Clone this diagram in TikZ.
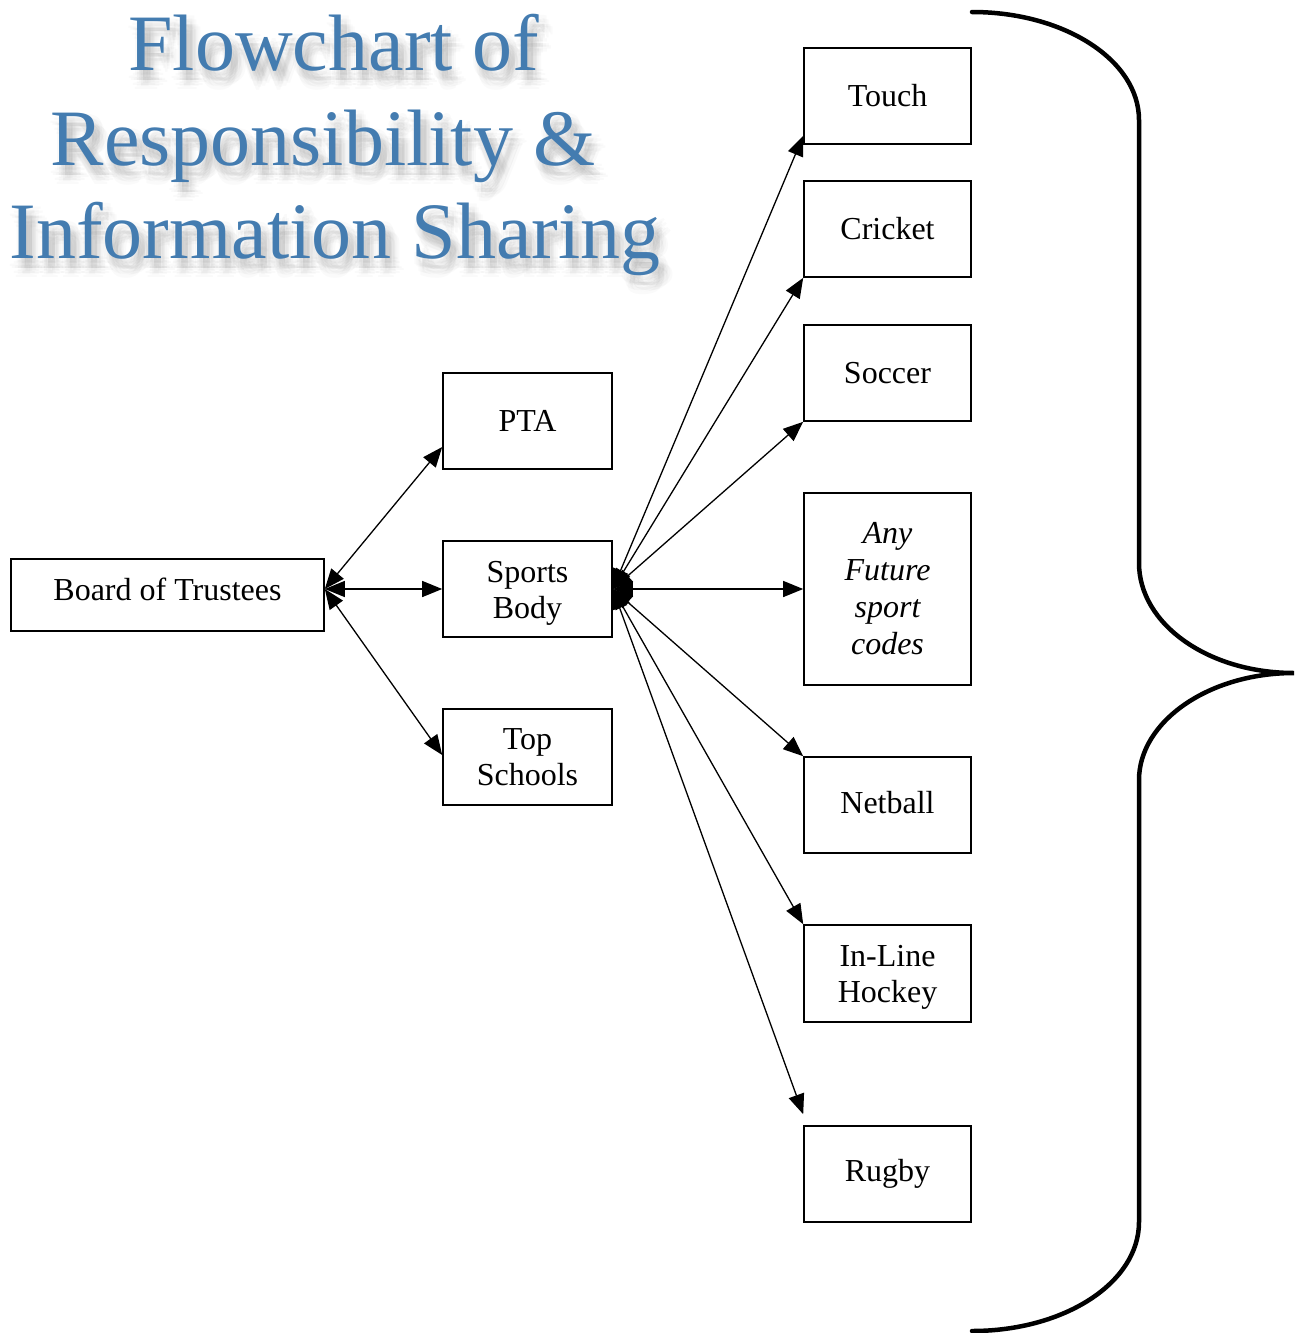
\documentclass[tikz,border=0pt]{standalone}
\usepackage{fontspec}
\setmainfont{Liberation Serif}
\usetikzlibrary{arrows.meta}
\definecolor{titleblue}{RGB}{68,124,176}
\begin{document}
\begin{tikzpicture}[x=1pt,y=-1pt,
  box/.style={draw,line width=1.6pt,inner sep=0pt,minimum width=167pt,
    minimum height=96pt,align=center,font=\fontsize{32}{36}\selectfont},
  link/.style={line width=1.3pt,
    {Triangle[length=20pt,width=16pt]}-{Triangle[length=20pt,width=16pt]}},
  titletext/.style={font=\fontsize{80}{94}\selectfont,inner sep=0pt,anchor=base},
  shadowtext/.style={titletext,text=black,opacity=0.018},
  brace/.style={line width=4.5pt,line cap=round}]
\useasboundingbox (0,0) rectangle (1294,1333);

% soft, diffuse drop shadow behind the title
\foreach \dx/\dy [count=\k] in {6/10,0/10,12/10,6/4,6/16,2/5,10/5,2/15,10/15,
                                 6/10,3/10,9/10,6/7,6/13,-2/8,14/12,4/19,8/1} {
  \node[shadowtext] (sa\k) at (334+\dx,70+\dy) {Flowchart of};
  \node[shadowtext] (sb\k) at (323+\dx,165+\dy) {Responsibility \&};
  \node[shadowtext] (sc\k) at (335+\dx,258+\dy) {Information Sharing};
}
% title
\node[titletext,text=titleblue] (t1) at (334,70) {Flowchart of};
\node[titletext,text=titleblue] (t2) at (323,165) {Responsibility \&};
\node[titletext,text=titleblue] (t3) at (335,258) {Information Sharing};

% left and middle columns
\node[box,minimum width=313pt,minimum height=72pt] (bot) at (167.5,595) {\raisebox{12pt}{Board of Trustees}};
\node[box,minimum width=169pt] (pta) at (527.5,421) {PTA};
\node[box,minimum width=169pt] (sb) at (527.5,589) {\rule{0pt}{30pt}Sports\\Body};
\node[box,minimum width=169pt] (top) at (527.5,757) {Top\\Schools};

% sport codes
\node[box] (touch) at (887.5,96) {Touch};
\node[box] (cricket) at (887.5,229) {Cricket};
\node[box] (soccer) at (887.5,373) {Soccer};
\node[box,minimum height=192pt,font=\fontsize{32}{37}\selectfont\itshape] (future) at (887.5,589) {Any\\Future\\sport\\codes};
\node[box] (netball) at (887.5,805) {\raisebox{6pt}{Netball}};
\node[box,minimum height=97pt] (hockey) at (887.5,973.5) {\rule{0pt}{29pt}In-Line\\Hockey};
\node[box] (rugby) at (887.5,1174) {Rugby};

% connectors from the board
\draw[link] ([yshift=6pt]bot.east) -- ([yshift=-26pt]pta.west);
\draw[link] ([yshift=6pt]bot.east) -- (sb.west);
\draw[link] ([yshift=6pt]bot.east) -- ([yshift=2pt]top.west);

% connectors from the sports body
\draw[link] (sb.east) -- ([yshift=9pt]touch.south west);
\draw[link] (sb.east) -- (cricket.south west);
\draw[link] (sb.east) -- (soccer.south west);
\draw[link] (sb.east) -- (future.west);
\draw[link] (sb.east) -- (netball.north west);
\draw[link] (sb.east) -- (hockey.north west);
\draw[link] (sb.east) -- ([yshift=11pt]rugby.north west);

% large curly brace on the right
\coordinate (btop) at (972,12);
\coordinate (btip) at (1294,673);
\coordinate (bbot) at (972,1331);
\draw[brace] (btop) .. controls (1064,12) and (1139,60) .. (1139,120)
  -- (1139,563) .. controls (1139,624) and (1208,673) .. (btip)
  .. controls (1208,673) and (1139,722) .. (1139,780)
  -- (1139,1222) .. controls (1139,1283) and (1064,1331) .. (bbot);
\end{tikzpicture}
\end{document}
